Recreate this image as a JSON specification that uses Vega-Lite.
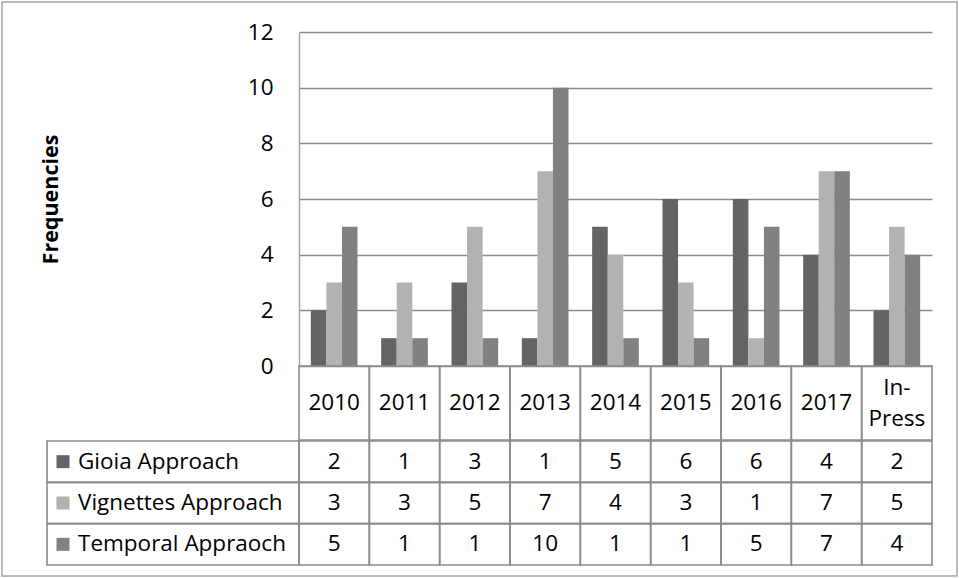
{
  "$schema": "https://vega.github.io/schema/vega-lite/v6.json",
  "width": 959,
  "height": 578,
  "autosize": {"type": "fit", "contains": "padding"},
  "padding": 2,
  "background": "white",
  "config": {
    "font": "Open Sans",
    "view": {"stroke": "#a6a6a6", "strokeWidth": 1.5}
  },
  "data": {
    "values": [
      {"year": "2010", "series": "Gioia Approach", "value": 2},
      {"year": "2011", "series": "Gioia Approach", "value": 1},
      {"year": "2012", "series": "Gioia Approach", "value": 3},
      {"year": "2013", "series": "Gioia Approach", "value": 1},
      {"year": "2014", "series": "Gioia Approach", "value": 5},
      {"year": "2015", "series": "Gioia Approach", "value": 6},
      {"year": "2016", "series": "Gioia Approach", "value": 6},
      {"year": "2017", "series": "Gioia Approach", "value": 4},
      {"year": "In-Press", "series": "Gioia Approach", "value": 2},
      {"year": "2010", "series": "Vignettes Approach", "value": 3},
      {"year": "2011", "series": "Vignettes Approach", "value": 3},
      {"year": "2012", "series": "Vignettes Approach", "value": 5},
      {"year": "2013", "series": "Vignettes Approach", "value": 7},
      {"year": "2014", "series": "Vignettes Approach", "value": 4},
      {"year": "2015", "series": "Vignettes Approach", "value": 3},
      {"year": "2016", "series": "Vignettes Approach", "value": 1},
      {"year": "2017", "series": "Vignettes Approach", "value": 7},
      {"year": "In-Press", "series": "Vignettes Approach", "value": 5},
      {"year": "2010", "series": "Temporal Appraoch", "value": 5},
      {"year": "2011", "series": "Temporal Appraoch", "value": 1},
      {"year": "2012", "series": "Temporal Appraoch", "value": 1},
      {"year": "2013", "series": "Temporal Appraoch", "value": 10},
      {"year": "2014", "series": "Temporal Appraoch", "value": 1},
      {"year": "2015", "series": "Temporal Appraoch", "value": 1},
      {"year": "2016", "series": "Temporal Appraoch", "value": 5},
      {"year": "2017", "series": "Temporal Appraoch", "value": 7},
      {"year": "In-Press", "series": "Temporal Appraoch", "value": 4}
    ]
  },
  "resolve": {"scale": {"x": "independent", "y": "independent"}},
  "layer": [
    {
      "mark": {"type": "bar"},
      "encoding": {
        "x": {"field": "year", "type": "nominal", "sort": null,
              "scale": {"domain": ["2010","2011","2012","2013","2014","2015","2016","2017","In-Press"], "range": [297, 930], "paddingInner": 0, "paddingOuter": 0},
              "axis": null},
        "xOffset": {"field": "series", "type": "nominal",
              "scale": {"domain": ["Gioia Approach","Vignettes Approach","Temporal Appraoch"], "paddingInner": 0, "paddingOuter": 0.76}},
        "y": {"field": "value", "type": "quantitative",
              "scale": {"domain": [0, 12], "range": [364, 30], "nice": false, "zero": true},
              "axis": {"offset": -297, "values": [0,2,4,6,8,10,12], "grid": true, "gridColor": "#8a8a8a", "gridWidth": 1.6,
                       "domain": true, "domainColor": "#a6a6a6", "domainWidth": 1.5, "ticks": false, "tickSize": 0,
                       "labelPadding": 26, "labelFontSize": 22.5, "labelColor": "#000000", "labelFont": "Open Sans",
                       "title": "Frequencies", "titleFont": "Open Sans", "titleFontSize": 21.5, "titleFontWeight": "bold", "titleColor": "#000000",
                       "titleX": -237, "titleBaseline": "bottom", "titleAngle": -90}},
        "color": {"field": "series", "type": "nominal",
              "scale": {"domain": ["Gioia Approach","Vignettes Approach","Temporal Appraoch"], "range": ["#646464", "#b2b2b2", "#818181"]},
              "legend": null}
      }
    },
    {
      "mark": {"type": "rect", "fill": "transparent", "stroke": "#8a8a8a", "strokeWidth": 1.6},
      "encoding": {
        "x": {"field": "year", "type": "nominal",
              "scale": {"domain": ["2010","2011","2012","2013","2014","2015","2016","2017","In-Press"], "range": [297, 930], "paddingInner": 0, "paddingOuter": 0},
              "axis": null},
        "y": {"field": "series", "type": "nominal",
              "scale": {"domain": ["Gioia Approach","Vignettes Approach","Temporal Appraoch"], "range": [439, 563], "paddingInner": 0, "paddingOuter": 0},
              "axis": null}
      }
    },
    {
      "mark": {"type": "text", "fontSize": 22.5, "baseline": "middle", "align": "center", "color": "#000000"},
      "encoding": {
        "x": {"field": "year", "type": "nominal",
              "scale": {"domain": ["2010","2011","2012","2013","2014","2015","2016","2017","In-Press"], "range": [297, 930], "paddingInner": 0, "paddingOuter": 0},
              "axis": null},
        "y": {"field": "series", "type": "nominal",
              "scale": {"domain": ["Gioia Approach","Vignettes Approach","Temporal Appraoch"], "range": [439, 563], "paddingInner": 0, "paddingOuter": 0},
              "axis": null},
        "text": {"field": "value", "type": "quantitative"}
      }
    },
    {
      "transform": [{"filter": "datum.series == 'Gioia Approach'"}],
      "mark": {"type": "rect", "fill": "transparent", "stroke": "#8a8a8a", "strokeWidth": 1.6},
      "encoding": {
        "x": {"field": "year", "type": "nominal",
              "scale": {"domain": ["2010","2011","2012","2013","2014","2015","2016","2017","In-Press"], "range": [297, 930], "paddingInner": 0, "paddingOuter": 0},
              "axis": null},
        "y": {"datum": "header", "type": "nominal",
              "scale": {"domain": ["header"], "range": [364, 438], "paddingInner": 0, "paddingOuter": 0},
              "axis": null}
      }
    },
    {
      "transform": [
        {"filter": "datum.series == 'Gioia Approach' && datum.year != 'In-Press'"}
      ],
      "mark": {"type": "text", "fontSize": 22.5, "baseline": "middle", "align": "center", "color": "#000000"},
      "encoding": {
        "x": {"field": "year", "type": "nominal",
              "scale": {"domain": ["2010","2011","2012","2013","2014","2015","2016","2017","In-Press"], "range": [297, 930], "paddingInner": 0, "paddingOuter": 0},
              "axis": null},
        "y": {"datum": "header", "type": "nominal",
              "scale": {"domain": ["header"], "range": [364, 438], "paddingInner": 0, "paddingOuter": 0},
              "axis": null},
        "text": {"field": "year", "type": "nominal"}
      }
    },
    {
      "transform": [
        {"filter": "datum.series == 'Gioia Approach' && datum.year == 'In-Press'"},
        {"calculate": "replace(datum.year, '-', '-\\n')", "as": "label"}
      ],
      "mark": {"type": "text", "fontSize": 22.5, "baseline": "middle", "align": "center", "color": "#000000", "lineBreak": "\n", "lineHeight": 31, "dy": -15},
      "encoding": {
        "x": {"field": "year", "type": "nominal",
              "scale": {"domain": ["2010","2011","2012","2013","2014","2015","2016","2017","In-Press"], "range": [297, 930], "paddingInner": 0, "paddingOuter": 0},
              "axis": null},
        "y": {"datum": "header", "type": "nominal",
              "scale": {"domain": ["header"], "range": [364, 438], "paddingInner": 0, "paddingOuter": 0},
              "axis": null},
        "text": {"field": "label", "type": "nominal"}
      }
    },
    {
      "transform": [{"filter": "datum.year == '2010'"}],
      "mark": {"type": "rect", "fill": "transparent", "stroke": "#8a8a8a", "strokeWidth": 1.6},
      "encoding": {
        "x": {"datum": 0, "type": "quantitative", "scale": {"domain": [0, 1], "range": [45, 297], "nice": false, "zero": false}, "axis": null},
        "x2": {"datum": 1},
        "y": {"field": "series", "type": "nominal",
              "scale": {"domain": ["Gioia Approach","Vignettes Approach","Temporal Appraoch"], "range": [439, 563], "paddingInner": 0, "paddingOuter": 0},
              "axis": null}
      }
    },
    {
      "transform": [{"filter": "datum.year == '2010'"}],
      "mark": {"type": "point", "shape": "square", "filled": true, "opacity": 1, "size": 169, "xOffset": 16},
      "encoding": {
        "x": {"datum": 0, "type": "quantitative", "scale": {"domain": [0, 1], "range": [45, 297], "nice": false, "zero": false}, "axis": null},
        "y": {"field": "series", "type": "nominal",
              "scale": {"domain": ["Gioia Approach","Vignettes Approach","Temporal Appraoch"], "range": [439, 563], "paddingInner": 0, "paddingOuter": 0},
              "axis": null},
        "color": {"field": "series", "type": "nominal",
              "scale": {"domain": ["Gioia Approach","Vignettes Approach","Temporal Appraoch"], "range": ["#646464", "#b2b2b2", "#818181"]},
              "legend": null}
      }
    },
    {
      "transform": [{"filter": "datum.year == '2010'"}],
      "mark": {"type": "text", "fontSize": 22.5, "baseline": "middle", "align": "left", "color": "#000000", "dx": 31},
      "encoding": {
        "x": {"datum": 0, "type": "quantitative", "scale": {"domain": [0, 1], "range": [45, 297], "nice": false, "zero": false}, "axis": null},
        "y": {"field": "series", "type": "nominal",
              "scale": {"domain": ["Gioia Approach","Vignettes Approach","Temporal Appraoch"], "range": [439, 563], "paddingInner": 0, "paddingOuter": 0},
              "axis": null},
        "text": {"field": "series", "type": "nominal"}
      }
    }
  ]
}
